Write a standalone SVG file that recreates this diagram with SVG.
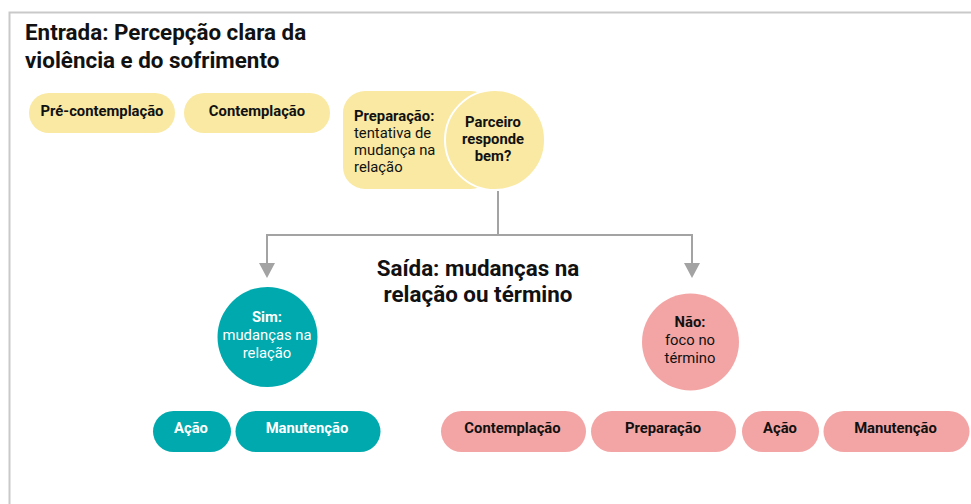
<svg xmlns="http://www.w3.org/2000/svg" width="971" height="504" viewBox="0 0 971 504">
<defs>
<style>
text{font-family:"Roboto","Liberation Sans",sans-serif;}
.t{font-size:22.4px;font-weight:bold;fill:#111;}
.b{font-size:14.8px;font-weight:bold;text-anchor:middle;}
.r{font-size:14.8px;text-anchor:middle;}
.s{font-size:14.8px;}
.y{fill:#f9e9a3;}
.g{fill:#00a9ad;}
.p{fill:#f3a5a5;}
.dk{fill:#111;}
.wh{fill:#fff;}
.ln{stroke:#a3a3a3;stroke-width:2;fill:none;}
.ah{fill:#a3a3a3;}
</style>
</defs>
<rect width="971" height="504" fill="#fff"/>
<path d="M9.5,504 V12.5 H971" stroke="#c9c9c9" stroke-width="2" fill="none"/>
<g id="title">
<text class="t" x="25" y="40">Entrada: Percepção clara da</text>
<text class="t" x="25" y="68">violência e do sofrimento</text>
</g>
<g id="pre"><rect class="y" x="29" y="93" width="146" height="40" rx="20"/><text class="b dk" x="102" y="116">Pré-contemplação</text></g>
<g id="cont1"><rect class="y" x="184" y="93" width="146" height="40" rx="20"/><text class="b dk" x="257" y="116">Contemplação</text></g>
<g id="prep1">
<rect class="y" x="343" y="91" width="150" height="98" rx="22"/>
<text class="dk s" style="font-weight:bold" x="354" y="121">Preparação:</text>
<text class="dk s" x="354" y="138">tentativa de</text>
<text class="dk s" x="354" y="155">mudança na</text>
<text class="dk s" x="354" y="172">relação</text>
</g>
<g id="parceiro">
<circle class="y" cx="495" cy="140" r="50" stroke="#fff" stroke-width="2"/>
<text class="b dk" x="493" y="127">Parceiro</text>
<text class="b dk" x="493" y="144">responde</text>
<text class="b dk" x="493" y="161">bem?</text>
</g>
<g id="connectors">
<path class="ln" d="M498,191 V235"/>
<path class="ln" d="M267,235 H692"/>
<path class="ln" d="M267,234 V264"/>
<path class="ln" d="M692,234 V264"/>
<path class="ah" d="M259,263 L275,263 L267,278 z"/>
<path class="ah" d="M684,263 L700,263 L692,278 z"/>
</g>
<g id="saida">
<text class="t" x="478" y="276" text-anchor="middle">Saída: mudanças na</text>
<text class="t" x="478" y="302" text-anchor="middle">relação ou término</text>
</g>
<g id="sim">
<circle class="g" cx="267.5" cy="337" r="50"/>
<text class="b wh" x="267" y="322">Sim:</text>
<text class="r wh" x="267" y="340">mudanças na</text>
<text class="r wh" x="267" y="358">relação</text>
</g>
<g id="nao">
<circle class="p" cx="690.5" cy="342" r="48.5"/>
<text class="b dk" x="690" y="327">Não:</text>
<text class="r dk" x="690" y="345">foco no</text>
<text class="r dk" x="690" y="363">término</text>
</g>
<g id="acao1"><rect class="g" x="153" y="411" width="78" height="41" rx="20.5"/><text class="b wh" x="191" y="433">Ação</text></g>
<g id="man1"><rect class="g" x="235.5" y="411" width="145" height="41" rx="20.5"/><text class="b wh" x="307" y="433">Manutenção</text></g>
<g id="cont2"><rect class="p" x="441" y="411" width="145" height="41" rx="20.5"/><text class="b dk" x="512.5" y="433">Contemplação</text></g>
<g id="prep2"><rect class="p" x="591" y="411" width="145" height="41" rx="20.5"/><text class="b dk" x="663" y="433">Preparação</text></g>
<g id="acao2"><rect class="p" x="742" y="411" width="77" height="41" rx="20.5"/><text class="b dk" x="780" y="433">Ação</text></g>
<g id="man2"><rect class="p" x="823.5" y="411" width="146" height="41" rx="20.5"/><text class="b dk" x="895.5" y="433">Manutenção</text></g>
</svg>
